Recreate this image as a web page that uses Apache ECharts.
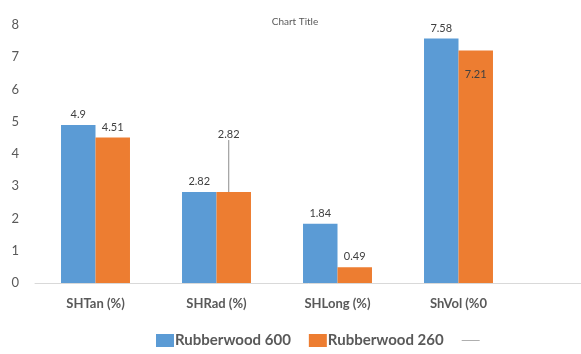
<!DOCTYPE html>
<html>
<head>
<meta charset="utf-8">
<script src="https://cdn.jsdelivr.net/npm/echarts@6/dist/echarts.min.js"></script>
<style>
  html, body { margin: 0; padding: 0; background: #fff; }
  #chart { width: 581px; height: 354px; }
</style>
</head>
<body>
<div id="chart"></div>
<script>
// Shrinkage measurements by direction for two rubberwood groups
const categories = ['SHTan (%)', 'SHRad (%)', 'SHLong (%)', 'ShVol (%0', ''];
const rubberwood600 = [4.9, 2.82, 1.84, 7.58, null];
const rubberwood260 = [4.51, 2.82, 0.49, 7.21, null];
const yTicks = { min: 0, max: 8, interval: 1 };

const FONT = 'Lato, "Open Sans", sans-serif';
const labelStyle = { show: true, position: 'top', fontSize: 11, color: '#404040', fontFamily: FONT, distance: 5 };

const chart = echarts.init(document.getElementById('chart'));
chart.setOption({
  animation: false,
  title: {
    text: 'Chart Title', left: 290, top: 12, textAlign: 'center',
    textStyle: { fontSize: 10, fontWeight: 'normal', color: '#595959', fontFamily: FONT }
  },
  legend: {
    bottom: 1, left: 151, itemWidth: 18, itemHeight: 13, itemGap: 18,
    textStyle: { fontSize: 15, fontWeight: 'bold', color: '#595959', fontFamily: FONT, padding: [0, 0, 0, -4] },
    data: [
      { name: 'Rubberwood 600', icon: 'rect' },
      { name: 'Rubberwood 260', icon: 'rect' },
      { name: ' ', icon: 'path://M0,5 L20,5 L20,6 L0,6 Z', itemStyle: { color: '#a6a6a6' } }
    ]
  },
  grid: { left: 35, top: 25, bottom: 71, width: 605, containLabel: false, outerBoundsMode: 'none' },
  xAxis: {
    type: 'category', data: categories,
    axisLine: { lineStyle: { color: '#d9d9d9', width: 1 } },
    axisTick: { show: false },
    axisLabel: { fontSize: 13, fontWeight: 'bold', color: '#595959', fontFamily: FONT, margin: 14 }
  },
  yAxis: {
    type: 'value', min: yTicks.min, max: yTicks.max, interval: yTicks.interval,
    splitLine: { show: false }, axisLine: { show: false },
    axisLabel: { fontSize: 13, color: '#595959', fontFamily: FONT, margin: 16 }
  },
  series: [
    {
      name: 'Rubberwood 600', type: 'bar', data: rubberwood600,
      barGap: '0%', barCategoryGap: '43%',
      itemStyle: { color: '#5b9bd5' },
      label: labelStyle
    },
    {
      name: 'Rubberwood 260', type: 'bar',
      data: rubberwood260.map((v, i) => {
        if (i === 3) return { value: v, label: { position: 'insideTop', distance: 18 } };
        if (i === 1) return { value: v, labelLine: { show: true, lineStyle: { color: '#8c8c8c', width: 1 } } };
        return v;
      }),
      itemStyle: { color: '#ed7d31' },
      label: labelStyle,
      labelLayout: function (params) {
        if (params.dataIndex === 1) return { dx: -5, dy: -47 };
        return {};
      }
    },
    { name: ' ', type: 'line', data: [], itemStyle: { color: '#a6a6a6' } }
  ]
});
</script>
</body>
</html>
